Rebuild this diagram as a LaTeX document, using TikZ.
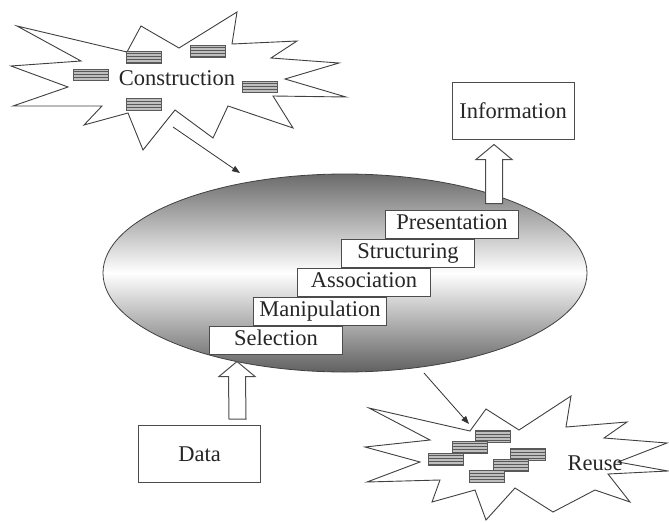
\documentclass[tikz,border=0pt]{standalone}
\usepackage{fontspec}
\setmainfont{Liberation Serif}
\usetikzlibrary{arrows.meta,calc,positioning,shapes.geometric,patterns}

% hollow block arrow from a base point up to a tip
\newcommand{\fatarrow}[2]{%
  \draw[fat] ($(#1)+(-8.5,0)$) -- ($(#2)+(-8.5,15)$) -- ($(#2)+(-18,15)$) -- (#2)
    -- ($(#2)+(18,15)$) -- ($(#2)+(8.5,15)$) -- ($(#1)+(8.5,0)$) -- cycle;}

\begin{document}
\begin{tikzpicture}[
    x=1pt, y=-1pt,
    font=\fontsize{22.5}{26}\selectfont,
    text=black!85,
    node distance=0pt,
    box/.style={draw=black!70, line width=1pt, fill=white, minimum width=122pt, minimum height=57pt, inner sep=0pt},
    stage/.style={draw=black!70, line width=1pt, fill=white, minimum width=133pt, minimum height=28pt, inner sep=0pt, text height=15pt, text depth=4pt},
    part/.style={draw=black!65, line width=0.8pt, minimum width=35pt, minimum height=11.5pt, inner sep=0pt, preaction={fill=black!25}, pattern=horizontal lines, pattern color=black!65},
    burst/.style={draw=black!75, line width=0.9pt, fill=white, line join=miter},
    thin/.style={-{Triangle[length=8pt,width=6pt]}, draw=black!80, line width=0.8pt},
    fat/.style={draw=black!70, line width=1pt, fill=white}
  ]
    \useasboundingbox (0,0) rectangle (669,522);

    % construction burst
    \draw[burst] (17,26) -- (127,52) -- (141,26) -- (179,48) -- (237,12) -- (232,44) -- (297,41)
      -- (271,58) -- (339,63) -- (285,79) -- (346,97) -- (273,96) -- (293,128) -- (228,106)
      -- (213,138) -- (175,110) -- (143,150) -- (128,113) -- (84,125) -- (102,106) -- (13,106)
      -- (68,87) -- (11,66) -- (81,61) -- cycle;
    \node[part] (c1) at (144,57.5) {};
    \node[part] (c2) at (208,51.5) {};
    \node[part] (c3) at (91,75) {};
    \node[part] (c4) at (260,87) {};
    \node[part] (c5) at (144,104.5) {};
    \node (construction) at (177,78) {Construction};

    % reuse burst
    \draw[burst] (369,408) -- (470,431) -- (486,409) -- (519,430) -- (571,396) -- (566,427)
      -- (627,422) -- (604,438) -- (667,443) -- (618,462) -- (668,471) -- (608,474) -- (630,502)
      -- (595,490) -- (553,512) -- (515,488) -- (486,520) -- (475,490) -- (432,502) -- (440,480)
      -- (367,482) -- (420,462) -- (365,447) -- (430,440) -- cycle;
    \node[part] (r1) at (493,436.5) {};
    \node[part] (r2) at (470,447.5) {};
    \node[part] (r3) at (446,459.5) {};
    \node[part] (r4) at (528,454.5) {};
    \node[part] (r5) at (510.5,465.5) {};
    \node[part] (r6) at (487,476.5) {};
    \node (reuse) at (595,463) {Reuse};

    % the database
    \node[ellipse, draw=black!75, line width=0.8pt, minimum width=484pt, minimum height=198pt,
      inner sep=0pt, top color=black!58, bottom color=black!62, middle color=white] (db) at (345,273) {};

    \node[stage] (sel) at (276,340) {Selection};
    \node[stage, above right=0pt and -90pt of sel] (man) {Manipulation};
    \node[stage, above right=0pt and -90pt of man] (assoc) {Association};
    \node[stage, above right=0pt and -90pt of assoc] (struct) {Structuring};
    \node[stage, above right=0pt and -90pt of struct] (pres) {Presentation};

    \node[box] (info) at (513,110.5) {Information};
    \node[box] (data) at (199.5,454) {Data};

    \coordinate (cons-out) at (173,127);
    \coordinate (db-in) at (240,173);
    \coordinate (db-out) at (424,373);
    \coordinate (reuse-in) at (469,424);
    \coordinate (info-tip) at ($(info.south)+(-19,5)$);
    \coordinate (info-base) at ($(info-tip)+(0,59)$);
    \coordinate (data-tip) at ($(sel.south west)+(28,7)$);
    \coordinate (data-base) at ($(data.north)+(38,-6)$);

    \draw[thin] (cons-out) -- (db-in);
    \draw[thin] (db-out) -- (reuse-in);
    \fatarrow{info-base}{info-tip}
    \fatarrow{data-base}{data-tip}
  \end{tikzpicture}
\end{document}
